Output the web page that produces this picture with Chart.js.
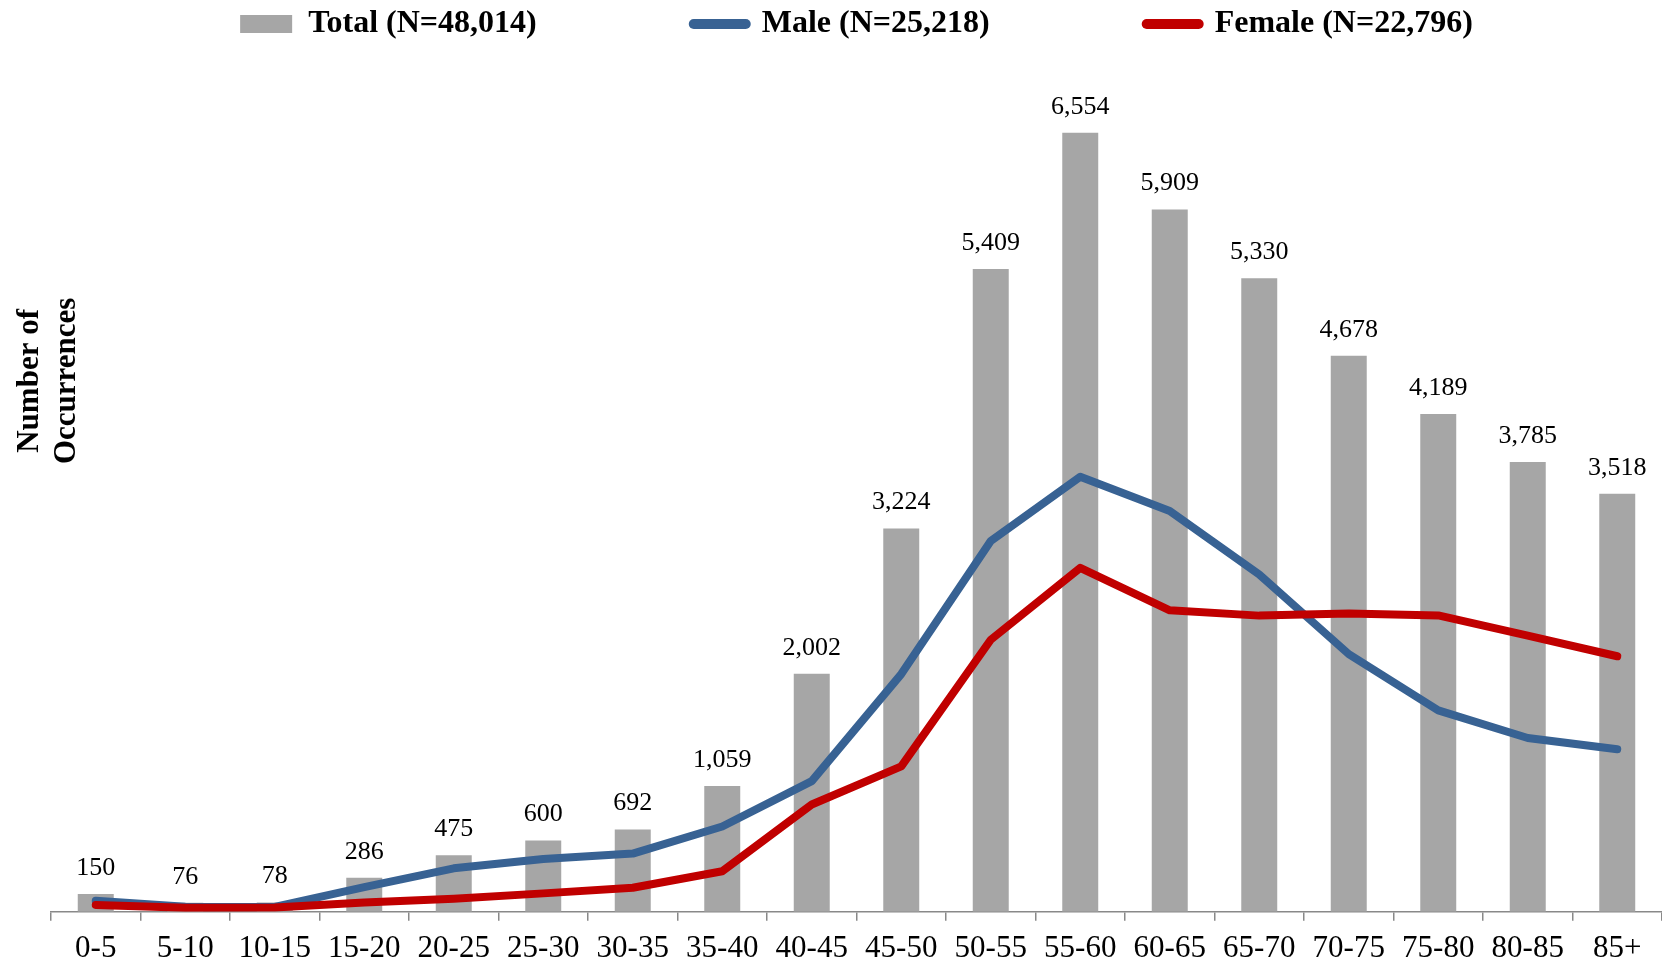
<!DOCTYPE html>
<html>
<head>
<meta charset="utf-8">
<script src="https://cdn.jsdelivr.net/npm/chart.js@4.4.1/dist/chart.umd.min.js"></script>
<style>
  html, body { margin: 0; padding: 0; background: #ffffff; }
  #wrap { width: 1662px; height: 964px; position: relative; }
</style>
</head>
<body>
<div id="wrap"><canvas id="c"></canvas></div>
<script>
// ---- data ----
const categories = ['0-5','5-10','10-15','15-20','20-25','25-30','30-35','35-40','40-45','45-50','50-55','55-60','60-65','65-70','70-75','75-80','80-85','85+'];
const totalValues  = [150, 76, 78, 286, 475, 600, 692, 1059, 2002, 3224, 5409, 6554, 5909, 5330, 4678, 4189, 3785, 3518];
const maleValues   = [92, 42, 41, 207, 366, 445, 490, 718, 1099, 2000, 3120, 3660, 3372, 2838, 2168, 1695, 1462, 1368];
const femaleValues = [58, 34, 37, 79, 109, 155, 202, 341, 903, 1224, 2289, 2894, 2537, 2492, 2510, 2494, 2323, 2150];
const seriesNames = ['Total (N=48,014)', 'Male (N=25,218)', 'Female (N=22,796)'];
const yTitleLines = ['Number of', 'Occurrences'];

const GRAY = '#A6A6A6', BLUE = '#386293', RED = '#C00000', AXIS = '#898989';
const LEGEND_GAP = 157;

Chart.defaults.font.family = '"Liberation Serif", "Times New Roman", serif';
Chart.defaults.color = '#000000';

const barLabelPlugin = {
  id: 'barLabels',
  afterDatasetsDraw(chart) {
    const meta = chart.getDatasetMeta(0);
    const ctx = chart.ctx;
    ctx.save();
    ctx.font = '26px "Liberation Serif"';
    ctx.fillStyle = '#000';
    ctx.textAlign = 'center';
    ctx.textBaseline = 'middle';
    meta.data.forEach((el, i) => {
      ctx.fillText(totalValues[i].toLocaleString('en-US'), el.x, el.y - 26);
    });
    ctx.restore();
  }
};

const yTitlePlugin = {
  id: 'yTitle',
  afterDraw(chart) {
    const ctx = chart.ctx, area = chart.chartArea;
    ctx.save();
    ctx.font = 'bold 31px "Liberation Serif"';
    ctx.fillStyle = '#000';
    ctx.textAlign = 'center';
    ctx.textBaseline = 'middle';
    const cy = (area.top + area.bottom) / 2 - 100;
    yTitleLines.forEach((t, i) => {
      ctx.save();
      ctx.translate(area.left - 21 + i * 36.5, cy);
      ctx.rotate(-Math.PI / 2);
      ctx.fillText(t, 0, 0);
      ctx.restore();
    });
    ctx.restore();
  }
};

new Chart(document.getElementById('c'), {
  type: 'bar',
  data: {
    labels: categories,
    datasets: [
      {
        type: 'bar', label: seriesNames[0], data: totalValues,
        backgroundColor: GRAY, borderWidth: 0,
        barPercentage: 0.402, categoryPercentage: 1.0, order: 3
      },
      {
        type: 'line', label: seriesNames[1], data: maleValues,
        borderColor: BLUE, backgroundColor: BLUE, borderWidth: 8,
        pointRadius: 0, tension: 0, borderCapStyle: 'round', borderJoinStyle: 'round', order: 2
      },
      {
        type: 'line', label: seriesNames[2], data: femaleValues,
        borderColor: RED, backgroundColor: RED, borderWidth: 8,
        pointRadius: 0, tension: 0, borderCapStyle: 'round', borderJoinStyle: 'round', order: 1
      }
    ]
  },
  options: {
    responsive: true,
    maintainAspectRatio: false,
    animation: false,
    layout: { padding: { top: 8 - LEGEND_GAP, left: 51, right: 0, bottom: -12 } },
    plugins: {
      tooltip: { enabled: false },
      legend: {
        display: true,
        position: 'top',
        fullSize: false,
        align: 'center',
        labels: {
          usePointStyle: true,
          pointStyleWidth: 52,
          boxHeight: 18,
          padding: LEGEND_GAP,
          font: { size: 32, weight: 'bold' },
          color: '#000',
          generateLabels: () => [
            { text: seriesNames[0], fillStyle: GRAY, strokeStyle: GRAY, lineWidth: 0, pointStyle: 'rect', datasetIndex: 0, hidden: false },
            { text: seriesNames[1], fillStyle: BLUE, strokeStyle: BLUE, lineWidth: 10, lineCap: 'round', pointStyle: 'line', datasetIndex: 1, hidden: false },
            { text: seriesNames[2], fillStyle: RED, strokeStyle: RED, lineWidth: 10, lineCap: 'round', pointStyle: 'line', datasetIndex: 2, hidden: false }
          ]
        }
      }
    },
    scales: {
      x: {
        offset: true,
        grid: { display: true, offset: true, drawOnChartArea: false, drawTicks: true, tickLength: 9, color: AXIS, lineWidth: 1.5 },
        border: { display: true, color: AXIS, width: 1.5 },
        ticks: { autoSkip: false, maxRotation: 0, minRotation: 0, padding: 9, color: '#000', font: { size: 31 } }
      },
      y: {
        display: false,
        min: 0,
        max: 7251
      }
    }
  },
  plugins: [barLabelPlugin, yTitlePlugin]
});
</script>
</body>
</html>
